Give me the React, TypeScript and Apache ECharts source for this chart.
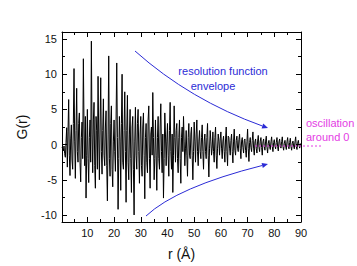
import React, { useEffect, useRef } from "react";
import * as echarts from "echarts";

// G(r): main samples every 0.5 Å from r = 0.5 Å,
// plus the in-between wiggles at r = 0.75, 1.25, ... Å
const rStart = 0.5;
const rStep = 0.5;
const gMain = [
  -0.4, -0.9, -1.3, 0.3, -3.2, 6.4, -4.4, 2.8, -3.5, 10.8,
  -4.8, 8.0, -2.5, 4.5, -5.3, 3.2, 12.2, -3.0, -7.6, 5.0,
  -5.4, 3.5, 14.7, -4.0, 6.0, -6.2, 2.0, 9.7, -5.0, 9.5,
  -4.2, 6.5, -3.0, 4.8, -8.0, 12.6, -4.5, 5.5, -6.0, 3.5,
  -3.8, 11.6, -9.2, 4.0, -6.5, 10.0, -3.5, 7.5, -8.2, 7.0,
  -5.0, 5.0, -6.8, 4.0, -10.0, 5.3, -3.5, 5.0, -5.5, 4.0,
  -4.5, 4.5, -7.7, 3.0, -4.0, 5.5, -6.2, 2.5, 7.4, -5.0,
  3.5, -6.5, 4.0, -3.5, 5.8, -4.0, -7.6, 4.5, -3.0, 3.0,
  -4.5, 6.0, -3.5, -6.8, 5.5, -2.5, 3.0, -4.0, 3.5, -5.5,
  2.5, 4.0, -3.0, 2.0, -4.5, 3.0, -2.0, 2.5, -5.0, 3.2,
  -2.5, 3.5, -3.0, 2.0, -2.0, 2.8, -3.5, 1.5, -2.0, 3.0,
  -4.6, 2.0, -1.5, 1.8, -2.5, 2.5, -3.4, 1.5, -1.5, 1.8,
  -2.0, 1.2, -2.5, 2.5, -3.0, 1.0, -1.5, 1.5, -2.6, 2.2,
  -1.5, 1.2, -1.0, 1.5, -2.0, 1.0, -1.2, 0.8, -1.8, 2.2,
  -2.4, 1.0, -1.0, 1.8, -1.5, 0.8, -1.2, 1.3, -1.0, 1.0,
  -1.5, 0.8, -0.8, 1.2, -1.2, 0.6, -0.7, 1.1, -1.0, 0.7,
  -0.6, 1.0, -0.9, 0.8, -0.5, 1.1, -0.8, 0.6, -0.7, 1.0,
  -0.6, 0.9, -0.8, 0.5, -0.6, 1.1, -0.7, 0.6, -0.5, 0.2,
];
const gBetween = [
  -0.6, -0.2, -1.8, 2.4, 1.8, -1.5, 0.8, -2.2, 3.0, 0.5,
  2.0, -1.0, 3.0, -2.5, 1.0, -2.0, 2.5, 4.0, -1.5, -2.0,
  1.0, -2.5, 1.5, 3.5, -3.0, 4.0, -3.5, 1.5, 2.5, -1.0,
  2.0, -1.5, 2.5, -3.0, 1.5, -2.0, 3.0, -3.5, 0.5, -1.0,
  3.5, 1.0, -2.0, 0.5, 3.0, -2.5, 2.0, -1.0, 2.0, -2.5,
  1.5, -2.0, 2.5, -3.5, 0.5, -1.5, 3.0, -1.0, 1.5, -3.0,
  2.5, -1.5, 1.0, -2.5, 3.5, -2.0, 1.5, -1.5, 1.0, -2.0,
  -1.5, 1.0, -2.0, 2.5, -1.0, 1.5, -2.0, 1.5, 0.5, -1.5,
  2.0, -1.0, 1.5, -1.5, 1.0, 2.0, -2.0, 1.0, -2.0, 1.0,
  -1.0, 0.5, -0.5, -1.5, 1.0, -1.5, 1.5, -1.5, -1.0, 0.5,
  1.5, -1.0, 0.5, -1.0, 1.0, -1.0, 0.5, -1.0, 1.0, -1.5,
  -0.5, 0.5, -0.5, -1.0, 1.0, -1.5, -0.5, 0.5, 0.8, -0.5,
  0.5, -1.0, 0.8, -1.0, 1.2, -0.5, 0.6, -1.0, 0.5, -0.8,
  0.6, -0.5, 0.7, -0.6, 0.5, -0.4, 0.6, -0.8, 0.4, -0.6,
  0.3, -0.4, 0.6, -0.5, 0.4, -0.6, 0.5, -0.4, 0.5, -0.4,
  0.4, -0.3, 0.5, -0.4, 0.2, -0.3, 0.4, -0.3, 0.3, -0.2,
  0.3, -0.3, 0.4, -0.2, 0.4, -0.3, 0.2, -0.2, 0.4, -0.2,
  0.3, -0.3, 0.2, -0.2, 0.4, -0.3, 0.2, -0.1, -0.1,
];

const xMajorTicks = [10, 20, 30, 40, 50, 60, 70, 80, 90];
const xMinorTicks = [5, 15, 25, 35, 45, 55, 65, 75, 85];
const yMajorTicks = [-10, -5, 0, 5, 10, 15];
const yMinorTicks = [-7.5, -2.5, 2.5, 7.5, 12.5];

const X_MIN = 0.5;
const X_MAX = 90;
const Y_MIN = -11;
const Y_MAX = 16;

const FONT = "'Liberation Sans', Arial, sans-serif";
const BLUE = "#2b2bd6";
const MAGENTA = "#e43ce4";

export default function App() {
  const ref = useRef<HTMLDivElement>(null);

  useEffect(() => {
    if (!ref.current) return;
    const chart = echarts.init(ref.current, undefined, { renderer: "svg" });
    const data: number[][] = [];
    gMain.forEach((v, i) => {
      const r = rStart + i * rStep;
      data.push([r, v]);
      if (i < gBetween.length) data.push([r + rStep / 2, gBetween[i]]);
    });

    const xAxisBase = (position: "bottom" | "top", ticks: number[], len: number, showLine: boolean, labels: boolean, name?: string) => ({
      type: "value" as const,
      position,
      min: X_MIN,
      max: X_MAX,
      splitLine: { show: false },
      axisLine: { show: showLine, onZero: false, lineStyle: { color: "#000", width: 1 } },
      axisTick: { show: true, inside: true, length: len, customValues: ticks, lineStyle: { color: "#000", width: 1 } },
      axisLabel: labels
        ? { show: true, customValues: ticks, color: "#111", fontSize: 11, fontFamily: FONT, margin: 5 }
        : { show: false },
      name,
      nameLocation: "middle" as const,
      nameGap: 25,
      nameTextStyle: { color: "#111", fontSize: 14, fontFamily: FONT },
    });

    const yAxisBase = (position: "left" | "right", ticks: number[], len: number, showLine: boolean, labels: boolean, name?: string) => ({
      type: "value" as const,
      position,
      min: Y_MIN,
      max: Y_MAX,
      splitLine: { show: false },
      axisLine: { show: showLine, onZero: false, lineStyle: { color: "#000", width: 1 } },
      axisTick: { show: true, inside: true, length: len, customValues: ticks, lineStyle: { color: "#000", width: 1 } },
      axisLabel: labels
        ? { show: true, customValues: ticks, color: "#111", fontSize: 11, fontFamily: FONT, margin: 5 }
        : { show: false },
      name,
      nameLocation: "middle" as const,
      nameGap: 33,
      nameTextStyle: { color: "#111", fontSize: 14, fontFamily: FONT },
    });

    chart.setOption({
      animation: false,
      backgroundColor: "#fff",
      grid: { left: 62, right: 56, top: 32, bottom: 41, containLabel: false },
      xAxis: [
        xAxisBase("bottom", xMajorTicks, 5, true, true, "r (Å)"),
        xAxisBase("bottom", xMinorTicks, 3, false, false),
        xAxisBase("top", xMajorTicks, 5, true, false),
        xAxisBase("top", xMinorTicks, 3, false, false),
      ],
      yAxis: [
        yAxisBase("left", yMajorTicks, 5, true, true, "G(r)"),
        yAxisBase("left", yMinorTicks, 3, false, false),
        yAxisBase("right", yMajorTicks, 5, true, false),
        yAxisBase("right", yMinorTicks, 3, false, false),
      ],
      series: [
        {
          type: "line",
          xAxisIndex: 0,
          yAxisIndex: 0,
          data,
          showSymbol: false,
          symbol: "none",
          lineStyle: { color: "#000", width: 1 },
          z: 2,
        },
      ],
      graphic: [
        {
          type: "bezierCurve",
          shape: { x1: 135, y1: 51, x2: 262.4, y2: 126, cpx1: 190, cpy1: 100 },
          style: { stroke: BLUE, lineWidth: 1, fill: "none" },
          z: 10,
        },
        {
          type: "polygon",
          shape: { points: [[268, 128], [261.6, 128.4], [263.2, 123.6]] },
          style: { fill: BLUE },
          z: 10,
        },
        {
          type: "bezierCurve",
          shape: { x1: 146, y1: 216, x2: 262.2, y2: 165.5, cpx1: 177, cpy1: 187 },
          style: { stroke: BLUE, lineWidth: 1, fill: "none" },
          z: 10,
        },
        {
          type: "polygon",
          shape: { points: [[268, 164], [262.8, 167.9], [261.6, 163.1]] },
          style: { fill: BLUE },
          z: 10,
        },
        {
          type: "text",
          x: 223,
          y: 71,
          style: { text: "resolution function", fill: BLUE, fontSize: 11, fontFamily: FONT, align: "center", verticalAlign: "middle" },
          z: 10,
        },
        {
          type: "text",
          x: 213,
          y: 86,
          style: { text: "envelope", fill: BLUE, fontSize: 11, fontFamily: FONT, align: "center", verticalAlign: "middle" },
          z: 10,
        },
        {
          type: "line",
          shape: { x1: 255, y1: 146, x2: 322, y2: 146 },
          style: { stroke: MAGENTA, lineWidth: 1, lineDash: [2, 2] },
          z: 10,
        },
        {
          type: "text",
          x: 306,
          y: 123,
          style: { text: "oscillation", fill: MAGENTA, fontSize: 11, fontFamily: FONT, align: "left", verticalAlign: "middle" },
          z: 10,
        },
        {
          type: "text",
          x: 306,
          y: 137,
          style: { text: "around 0", fill: MAGENTA, fontSize: 11, fontFamily: FONT, align: "left", verticalAlign: "middle" },
          z: 10,
        },
      ],
    });
    return () => chart.dispose();
  }, []);

  return (
    <div
      ref={ref}
      style={{ position: "fixed", left: 0, top: 0, width: 357, height: 266, background: "#fff" }}
    />
  );
}
